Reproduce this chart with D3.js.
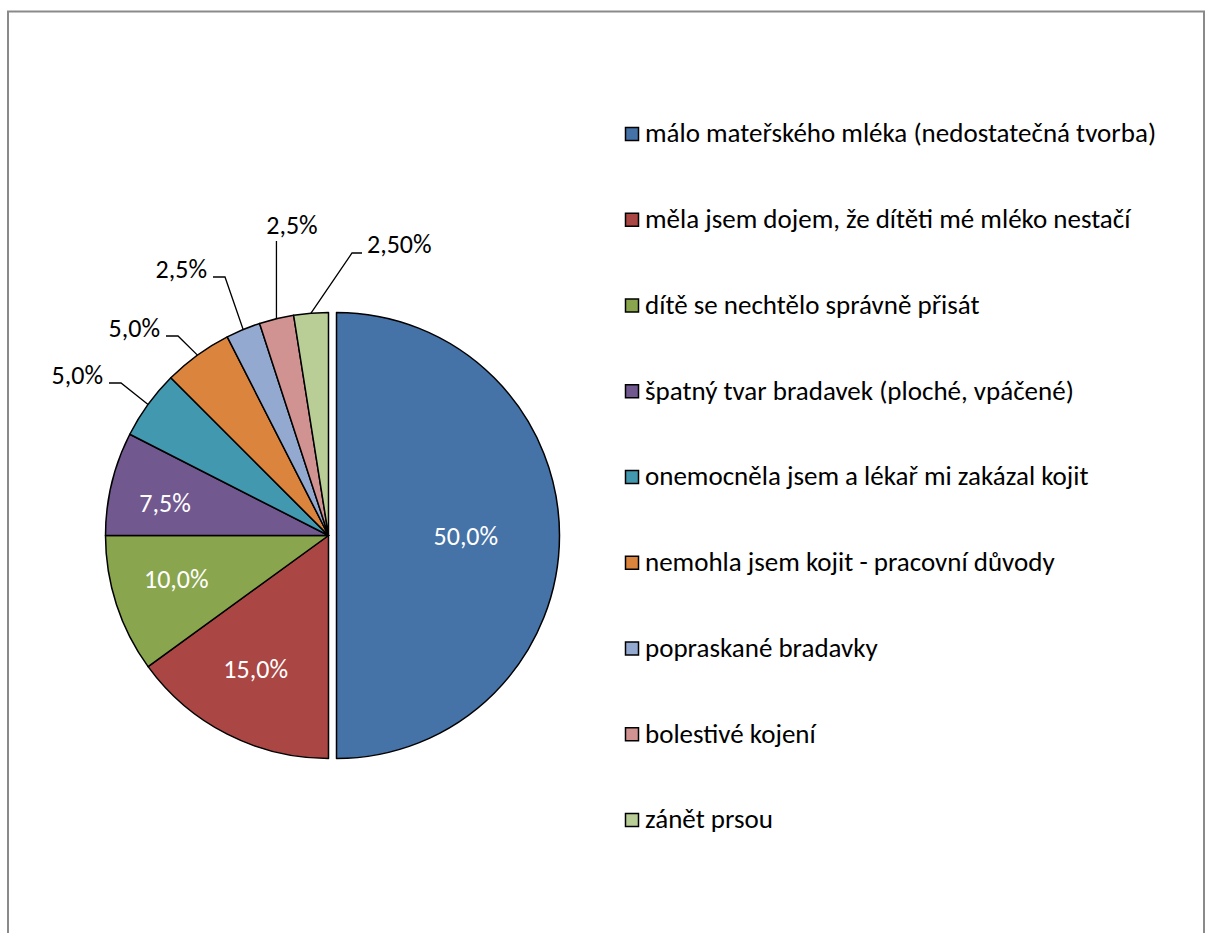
<!DOCTYPE html>
<html>
<head>
<meta charset="utf-8">
<script src="https://cdn.jsdelivr.net/npm/d3@7"></script>
<style>
  html, body { margin: 0; padding: 0; background: #fff; }
  svg { display: block; }
  text { font-family: Carlito, Calibri, Lato, sans-serif; }
</style>
</head>
<body>
<svg id="chart" width="1207" height="933"></svg>
<script>
// Reasons for ending breastfeeding (share of respondents, %)
const categories = [
  "málo mateřského mléka (nedostatečná tvorba)",
  "měla jsem dojem, že dítěti mé mléko nestačí",
  "dítě se nechtělo správně přisát",
  "špatný tvar bradavek (ploché, vpáčené)",
  "onemocněla jsem a lékař mi zakázal kojit",
  "nemohla jsem kojit - pracovní důvody",
  "popraskané bradavky",
  "bolestivé kojení",
  "zánět prsou"
];
const values = [50, 15, 10, 7.5, 5, 5, 2.5, 2.5, 2.5];
const valueLabels = ["50,0%", "15,0%", "10,0%", "7,5%", "5,0%", "5,0%", "2,5%", "2,5%", "2,50%"];
const colors = ["#4572A7", "#AA4643", "#89A54E", "#71588F", "#4198AF",
                "#DB843D", "#93A9CF", "#D19392", "#B9CD96"];

const cx = 328.5, cy = 535.5, R = 223;
const explode = 8;            // first slice is pulled out
const labelFont = 26;
const legendFont = 27;

const svg = d3.select("#chart");

// chart-area frame (bottom edge runs past the page)
svg.append("rect")
  .attr("x", 8).attr("y", 11.5)
  .attr("width", 1196).attr("height", 960)
  .attr("fill", "none")
  .attr("stroke", "#8a8a8a")
  .attr("stroke-width", 2);

const pie = d3.pie().sort(null).value(d => d)(values);
const arc = d3.arc().innerRadius(0).outerRadius(R);
const polar = (a, r) => [Math.sin(a) * r, -Math.cos(a) * r];

const g = svg.append("g").attr("transform", `translate(${cx},${cy})`);

const slices = g.selectAll("g.slice").data(pie).join("g")
  .attr("class", "slice")
  .attr("transform", (d, i) => {
    if (i !== 0) return null;
    const [dx, dy] = polar((d.startAngle + d.endAngle) / 2, explode);
    return `translate(${dx},${dy})`;
  });

slices.append("path")
  .attr("d", arc)
  .attr("fill", (d, i) => colors[i])
  .attr("stroke", "#000")
  .attr("stroke-width", 1.5)
  .attr("stroke-linejoin", "round");

// labels inside the larger slices: polar radius and nudge from the mid angle
const insideLayout = {
  0: { r: 0.58, dx: 0, dy: 0 },
  1: { r: 0.68, dx: -4, dy: -2 },
  2: { r: 0.68, dx: -8, dy: -3 },
  3: { r: 0.68, dx: -16, dy: 3 }
};
Object.entries(insideLayout).forEach(([k, L]) => {
  const i = +k, d = pie[i];
  const mid = (d.startAngle + d.endAngle) / 2;
  const [x, y] = polar(mid, R * L.r);
  const off = i === 0 ? polar(mid, explode) : [0, 0];
  g.append("text")
    .attr("x", x + L.dx + off[0])
    .attr("y", y + L.dy + off[1])
    .attr("dy", "0.35em")
    .attr("text-anchor", "middle")
    .attr("fill", "#fff")
    .attr("font-size", labelFont)
    .text(valueLabels[i]);
});

// labels outside the thin slices, with leader lines from the arc midpoint
const outsideLayout = {
  4: { x: -225.5, y: -151.5, anchor: "end" },
  5: { x: -168.5, y: -198.5, anchor: "end" },
  6: { x: -121.5, y: -257.5, anchor: "end" },
  7: { x: -36.5,  y: -301.5, anchor: "middle" },
  8: { x: 38.5,   y: -282.5, anchor: "start" }
};
Object.entries(outsideLayout).forEach(([k, L]) => {
  const i = +k, d = pie[i];
  const mid = (d.startAngle + d.endAngle) / 2;
  const p0 = polar(mid, R);
  let pts;
  if (L.anchor === "end") {
    pts = [p0, [L.x + 18, L.y - 1], [L.x + 6, L.y - 1]];
  } else if (L.anchor === "start") {
    pts = [p0, [L.x - 15, L.y], [L.x - 5, L.y]];
  } else {
    pts = [p0, [p0[0], L.y + 7]];
  }
  g.append("path")
    .attr("d", d3.line()(pts))
    .attr("fill", "none")
    .attr("stroke", "#000")
    .attr("stroke-width", 1.3);
  g.append("text")
    .attr("x", L.x).attr("y", L.y)
    .attr("text-anchor", L.anchor)
    .attr("fill", "#000")
    .attr("font-size", labelFont)
    .text(valueLabels[i]);
});

// legend
const legendX = 625, legendY0 = 133, legendStep = 85.75, sw = 13;
const y = d3.scalePoint().domain(d3.range(categories.length))
  .range([legendY0, legendY0 + legendStep * (categories.length - 1)]);
const items = svg.append("g").selectAll("g").data(categories).join("g")
  .attr("transform", (d, i) => `translate(${legendX},${y(i)})`);
items.append("rect")
  .attr("x", 0.5).attr("y", -sw / 2 + 1)
  .attr("width", sw).attr("height", sw)
  .attr("fill", (d, i) => colors[i])
  .attr("stroke", "#000")
  .attr("stroke-width", 1.5);
items.append("text")
  .attr("x", 20).attr("y", 0)
  .attr("dy", "0.35em")
  .attr("font-size", legendFont)
  .attr("fill", "#000")
  .text(d => d);
</script>
</body>
</html>
